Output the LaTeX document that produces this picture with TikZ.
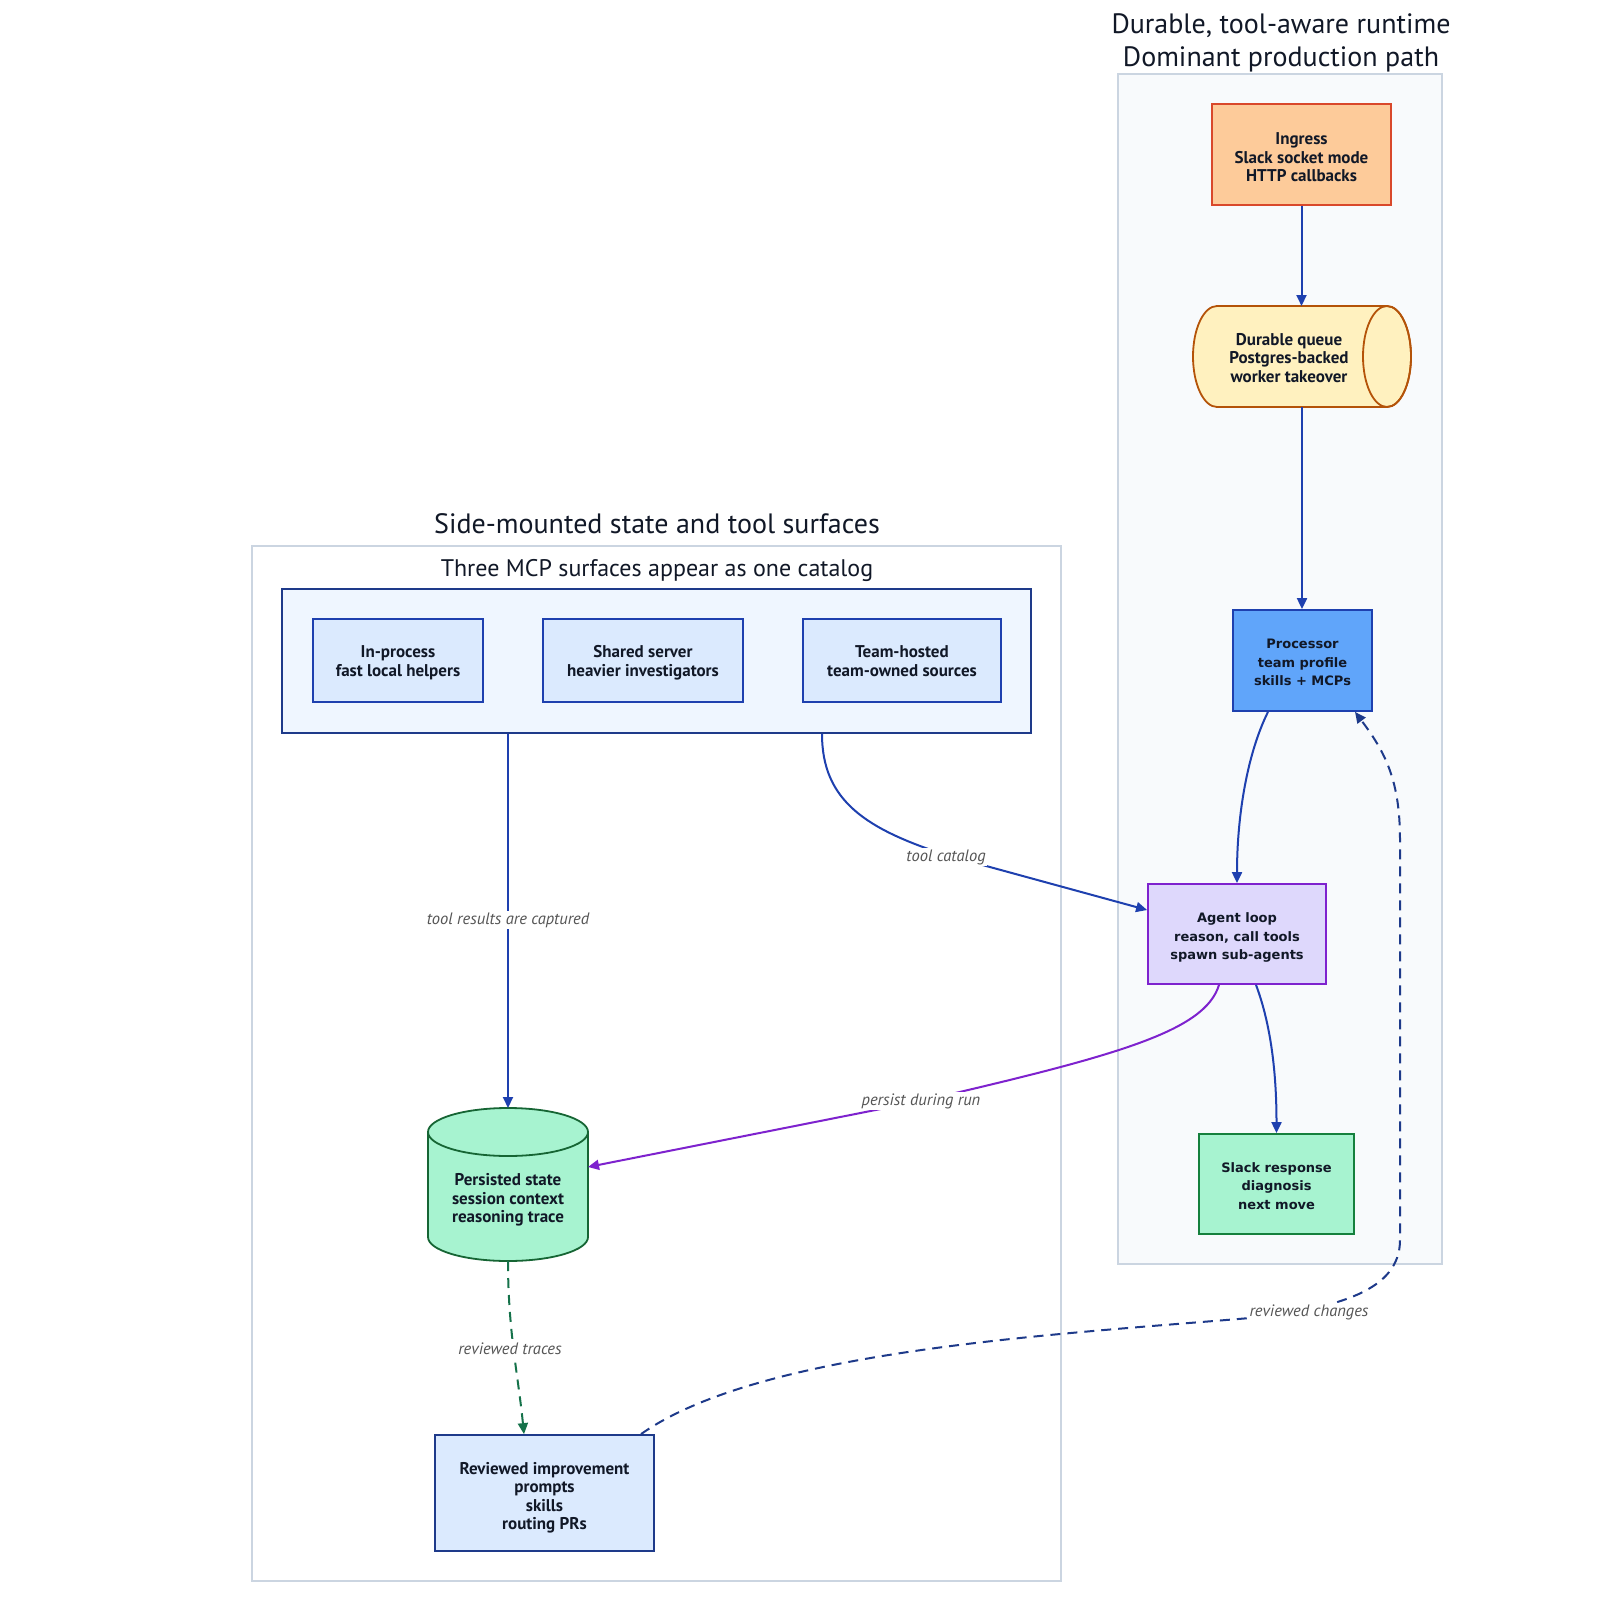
\documentclass[tikz,border=0pt]{standalone}
\usepackage{fontspec}
\setmainfont{PT Sans}
\newfontfamily\dvb{DejaVu Sans}
\usetikzlibrary{arrows.meta,calc}
\definecolor{ink}{HTML}{111827}
\definecolor{clborder}{HTML}{CBD5E1}
\definecolor{rightbg}{HTML}{F8FAFC}
\definecolor{mcpbg}{HTML}{EFF6FF}
\definecolor{lightblue}{HTML}{DBEAFE}
\definecolor{navy}{HTML}{1E3A8A}
\definecolor{blueline}{HTML}{1E40AF}
\definecolor{ingfill}{HTML}{FDCB9A}
\definecolor{ingdraw}{HTML}{D9482B}
\definecolor{qfill}{HTML}{FFF1BF}
\definecolor{qdraw}{HTML}{B45309}
\definecolor{procfill}{HTML}{60A5FA}
\definecolor{agentfill}{HTML}{DED8FC}
\definecolor{purp}{HTML}{7E22CE}
\definecolor{mint}{HTML}{A7F3D0}
\definecolor{greenline}{HTML}{15803D}
\definecolor{pdraw}{HTML}{166534}
\definecolor{gdash}{HTML}{15724A}
\definecolor{lblgray}{HTML}{555555}
\tikzset{
  box/.style={draw, line width=1.8pt, inner sep=0pt},
  boxtext/.style={align=center, text=ink, inner sep=0pt, font=\fontsize{17}{18.5}\selectfont\bfseries},
  dvtext/.style={boxtext, font=\dvb\fontsize{13}{18.5}\selectfont\bfseries},
  hidden/.style={draw=none, inner sep=0pt, outer sep=0pt},
  cluster/.style={draw=clborder, line width=1.5pt, inner sep=0pt},
  bigtitle/.style={align=center, text=ink, inner sep=0pt, font=\fontsize{28}{33}\selectfont},
  subtitle/.style={align=center, text=ink, inner sep=0pt, font=\fontsize{24}{28}\selectfont},
  edgelbl/.style={font=\fontsize{16.5}{18}\selectfont\itshape, text=lblgray, fill=white, inner sep=1.5pt},
  arr/.style={line width=2pt, -{Triangle[length=11pt,width=10pt]}},
  dsh/.style={dash pattern=on 10pt off 7pt}
}
\begin{document}
\begin{tikzpicture}[x=1pt,y=-1pt]
\useasboundingbox (0,0) rectangle (1622,1616);
\fill[white] (0,0) rectangle (1622,1616);

% clusters
\node[cluster, fill=rightbg, minimum width=324pt, minimum height=1190pt] (rclust) at (1280,669) {};
\node[cluster, fill=white, minimum width=809pt, minimum height=1035pt] (lclust) at (656.5,1063.5) {};
\node[bigtitle] (rtitle) at (1281,42.5) {Durable, tool-aware runtime\\Dominant production path};
\node[bigtitle] (ltitle) at (657,524) {Side-mounted state and tool surfaces};
\node[subtitle] (mcptitle) at (657,570) {Three MCP surfaces appear as one catalog};

% MCP group
\node[box, fill=mcpbg, draw=navy, minimum width=749pt, minimum height=144pt] (mcp) at (656.5,661) {};
\node[box, fill=lightblue, draw=blueline, minimum width=170pt, minimum height=83pt] (inproc) at (398,660.5) {};
\node[boxtext] (inproclbl) at (398,663.5) {\strut In-process\\fast local helpers\strut};
\node[box, fill=lightblue, draw=blueline, minimum width=200pt, minimum height=83pt] (shared) at (643,660.5) {};
\node[boxtext] (sharedlbl) at (643,663.5) {\strut Shared server\\heavier investigators\strut};
\node[box, fill=lightblue, draw=blueline, minimum width=198pt, minimum height=83pt] (team) at (902,660.5) {};
\node[boxtext] (teamlbl) at (902,663.5) {\strut Team-hosted\\team-owned sources\strut};

% right column
\node[box, fill=ingfill, draw=ingdraw, minimum width=179pt, minimum height=101pt] (ingress) at (1301.5,154.5) {};
\node[boxtext] (ingresslbl) at (1301.5,157.5) {Ingress\\Slack socket mode\\HTTP callbacks};

\filldraw[fill=qfill, draw=qdraw, line width=1.8pt] (1217,306) -- (1387,306)
  arc[start angle=-90,end angle=90,x radius=24,y radius=50.5] -- (1217,407)
  arc[start angle=90,end angle=270,x radius=24,y radius=50.5] -- cycle;
\draw[qdraw, line width=1.8pt] (1387,356.5) ellipse[x radius=24, y radius=50.5];
\node[hidden, minimum width=218pt, minimum height=101pt] (queue) at (1302,356.5) {};
\node[boxtext] (queuelbl) at (1289,358) {Durable queue\\Postgres-backed\\worker takeover};

\node[box, fill=procfill, draw=blueline, minimum width=139pt, minimum height=101pt] (proc) at (1302.5,660.5) {};
\node[dvtext] (proclbl) at (1302.5,662.5) {Processor\\team profile\\skills + MCPs};
\node[box, fill=agentfill, draw=purp, minimum width=178pt, minimum height=100pt] (agent) at (1237,934) {};
\node[dvtext] (agentlbl) at (1237,937.5) {Agent loop\\reason, call tools\\spawn sub-agents};
\node[box, fill=mint, draw=greenline, minimum width=155pt, minimum height=100pt] (slack) at (1276.5,1184) {};
\node[dvtext] (slacklbl) at (1276.5,1186) {Slack response\\diagnosis\\next move};

% persisted cylinder
\filldraw[fill=mint, draw=pdraw, line width=1.8pt] (428,1132) -- (428,1237)
  arc[start angle=180,end angle=0,x radius=80,y radius=24] -- (588,1132)
  arc[start angle=0,end angle=-180,x radius=80,y radius=24] -- cycle;
\draw[pdraw, line width=1.8pt] (428,1132) arc[start angle=180,end angle=0,x radius=80,y radius=24];
\node[hidden, minimum width=160pt, minimum height=153pt] (persisted) at (508,1184.5) {};
\node[boxtext] (persistedlbl) at (508,1200) {Persisted state\\session context\\reasoning trace};

\node[box, fill=lightblue, draw=navy, minimum width=219pt, minimum height=116pt] (rev) at (544.5,1493) {};
\node[boxtext] (revlbl) at (544.5,1497.5) {Reviewed improvement\\prompts\\skills\\routing PRs};

% helper coordinates
\coordinate (tcmid) at (946,855);
\coordinate (pmid) at (921,1101);
\coordinate (rcmid) at (1250,1318);
\coordinate (rcturn) at (1400,1240);
\coordinate (rctop) at (1400,840);

% connectors
\draw[arr, blueline] (ingress.south) -- (ingress.south |- queue.north);
\draw[arr, blueline] (queue.south) -- (queue.south |- proc.north);
\draw[arr, blueline] ($(proc.south)+(-34.5,0)$) .. controls +(-20,40) and +(0,-70) .. (agent.north);
\draw[arr, blueline] ($(agent.south)+(19,0)$) .. controls +(15,40) and +(0,-60) .. (slack.north);
\draw[arr, blueline] ($(mcp.south)+(-148.5,0)$) -- (persisted.north);
\draw[arr, blueline] ($(mcp.south)+(165.5,0)$) .. controls +(0,67) and +(-80,-26) .. (tcmid) -- ($(agent.west)+(0,-24)$);
\draw[arr, purp] ($(agent.south)+(-18,0)$) .. controls +(-14,46) and +(199,-46) .. (pmid) -- ($(persisted.east)+(0,-17.5)$);
\draw[arr, gdash, dsh] (persisted.south) .. controls +(0,70) and +(-6,-60) .. ($(rev.north)+(-20.5,0)$);
\draw[arr, navy, dsh] ($(rev.north)+(96.5,0)$) .. controls +(119,-84) and +(-200,17) .. (rcmid)
  .. controls +(90,-10) and +(0,50) .. (rcturn) -- (rctop)
  .. controls +(0,-60) and +(30,40) .. ($(proc.south)+(52.5,0)$);

% labels
\node[edgelbl] (lbl1) at (508,920) {tool results are captured};
\node[edgelbl] (lbl2) at (946,857) {tool catalog};
\node[edgelbl] (lbl3) at (921,1101) {persist during run};
\node[edgelbl] (lbl4) at (510,1349) {reviewed traces};
\node[edgelbl] (lbl5) at (1309,1312) {reviewed changes};
\end{tikzpicture}
\end{document}
